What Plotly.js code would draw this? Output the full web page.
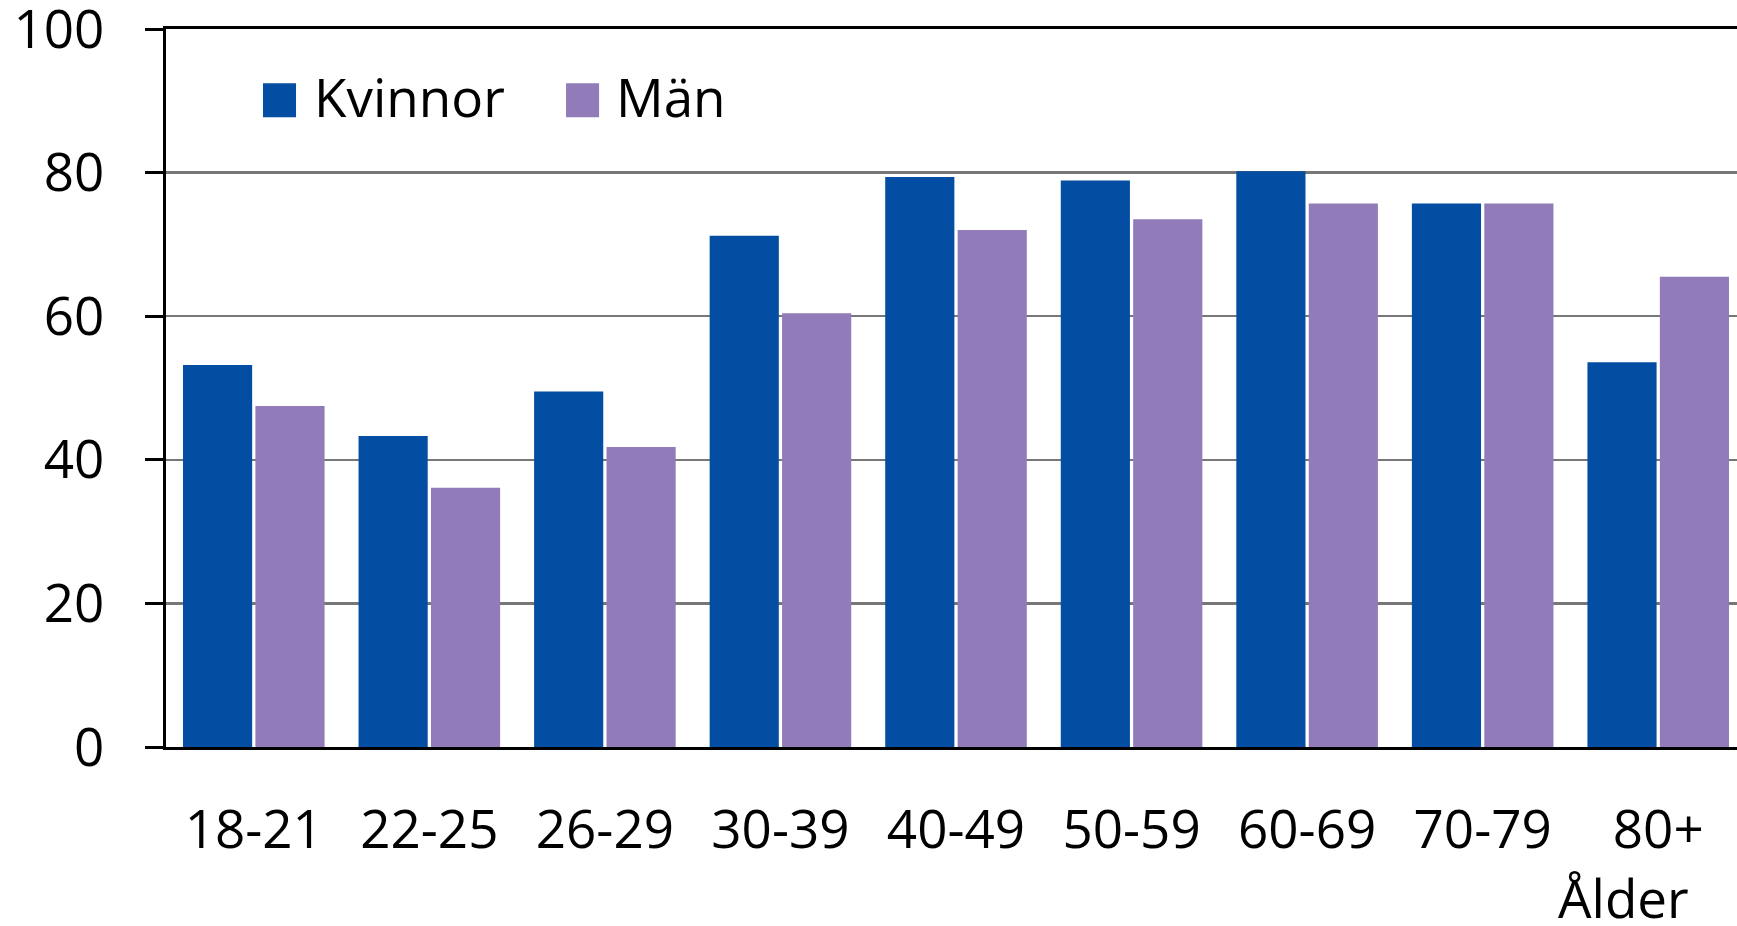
<!DOCTYPE html>
<html>
<head>
<meta charset="utf-8">
<script src="https://cdn.plot.ly/plotly-3.0.1.min.js"></script>
<style>
  html, body { margin: 0; padding: 0; background: #fff; overflow: hidden; }
  #chart { width: 1746px; height: 926px; }
</style>
</head>
<body>
<div id="chart"></div>
<script>
// ---- data ----
const categories = ["18-21", "22-25", "26-29", "30-39", "40-49", "50-59", "60-69", "70-79", "80+"];
const kvinnor = [53.2, 43.3, 49.5, 71.2, 79.4, 78.9, 80.2, 75.7, 53.6];
const man = [47.5, 36.1, 41.8, 60.4, 72.0, 73.5, 75.7, 75.7, 65.5];
const seriesNames = ["Kvinnor", "Män"];
const yTicks = [0, 20, 40, 60, 80, 100];
const axisTitle = "Ålder";

const colors = ["#034EA2", "#917BB8"];
const FONT = "'Open Sans', 'Noto Sans', sans-serif";
const FS = 53;

const traces = [
  { type: "bar", name: seriesNames[0], x: categories, y: kvinnor, marker: { color: colors[0] }, hoverinfo: "x+y+name" },
  { type: "bar", name: seriesNames[1], x: categories, y: man, marker: { color: colors[1] }, hoverinfo: "x+y+name" }
];

// manual legend (large swatches like the original)
const legendItems = [
  { x0: 0.0614, x1: 0.0823, tx: 0.0925 },
  { x0: 0.2532, x1: 0.2741, tx: 0.2838 }
];
const shapes = legendItems.map((it, i) => ({
  type: "rect", xref: "paper", yref: "paper",
  x0: it.x0, x1: it.x1, y0: 0.877, y1: 0.9244,
  fillcolor: colors[i], line: { width: 0 }
}));
const annotations = legendItems.map((it, i) => ({
  text: seriesNames[i], xref: "paper", yref: "paper",
  x: it.tx, y: 0.9055, xanchor: "left", yanchor: "middle",
  showarrow: false, font: { family: FONT, size: FS, color: "#000" }
}));
annotations.push({
  text: axisTitle, xref: "paper", yref: "paper",
  x: 0.9225, y: -0.209, xanchor: "center", yanchor: "middle",
  showarrow: false, font: { family: FONT, size: FS, color: "#000" }
});

const layout = {
  width: 1746, height: 926,
  margin: { l: 166, r: 0, t: 29, b: 179, pad: 0 },
  paper_bgcolor: "#fff", plot_bgcolor: "#fff",
  font: { family: FONT, size: FS, color: "#000" },
  barmode: "group", bargap: 0.175, bargroupgap: 0.045,
  showlegend: false,
  xaxis: {
    type: "category", showline: true, linecolor: "#000", linewidth: 3, mirror: true,
    ticks: "", showgrid: false, zeroline: false,
    tickfont: { family: FONT, size: FS, color: "#000" },
    ticklabelstandoff: 34
  },
  yaxis: {
    range: [0, 100], tickvals: yTicks, ticktext: yTicks.map(String),
    showline: true, linecolor: "#000", linewidth: 3,
    ticks: "outside", ticklen: 18, tickwidth: 3, tickcolor: "#000",
    showgrid: true, gridcolor: "#777", gridwidth: 2.5, zeroline: false,
    tickfont: { family: FONT, size: FS, color: "#000" },
    ticklabelstandoff: 30, ticklabeloverflow: "allow"
  },
  shapes: shapes,
  annotations: annotations
};

Plotly.newPlot("chart", traces, layout, { displayModeBar: false, staticPlot: true });
</script>
</body>
</html>
